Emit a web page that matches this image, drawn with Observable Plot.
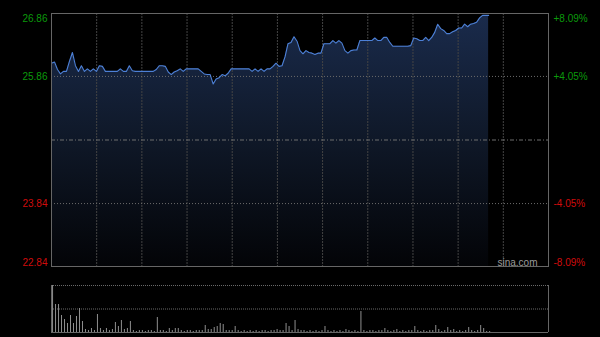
<!DOCTYPE html>
<html><head><meta charset="utf-8">
<script src="https://cdn.jsdelivr.net/npm/d3@7"></script>
<script src="https://cdn.jsdelivr.net/npm/@observablehq/plot@0.6"></script>
<style>
html,body{margin:0;padding:0;background:#000;}
#c{position:relative;width:600px;height:337px;background:#000;overflow:hidden;}
#c svg{position:absolute;left:0;}
</style>
</head><body><div id="c"></div>
<script>
const prices = [26.07,26.09,25.97,25.90,25.94,25.94,26.10,26.24,26.03,25.94,
26.03,25.94,25.98,25.94,25.98,25.94,26.03,26.02,25.94,25.94,
25.94,25.94,25.94,25.98,25.94,25.94,26.03,25.95,25.94,25.94,
25.94,25.94,25.94,25.94,25.94,25.97,26.03,26.03,26.02,25.93,
25.89,25.93,25.95,25.98,25.94,25.98,25.98,25.98,25.98,25.98,
25.94,25.90,25.89,25.89,25.74,25.82,25.84,25.89,25.87,25.91,
25.98,25.98,25.98,25.98,25.98,25.98,25.98,25.94,25.98,25.94,
25.98,25.94,25.98,25.98,26.02,26.07,26.02,26.03,26.17,26.38,
26.40,26.49,26.42,26.27,26.22,26.27,26.24,26.23,26.21,26.23,
26.23,26.38,26.38,26.38,26.43,26.39,26.43,26.39,26.27,26.23,
26.27,26.28,26.28,26.43,26.43,26.43,26.43,26.43,26.47,26.43,
26.43,26.48,26.48,26.40,26.34,26.34,26.34,26.34,26.34,26.34,
26.35,26.47,26.46,26.43,26.43,26.48,26.43,26.48,26.56,26.69,
26.62,26.59,26.54,26.54,26.57,26.59,26.63,26.63,26.69,26.65,
26.69,26.70,26.72,26.79,26.83,26.83,26.83];
const volumes = [47,28,28,17,13,9,17,9,16,24,
11,3,2,4,2,18,4,2,4,2,
3,10,6,12,3,4,11,2,1,2,
2,1,2,2,1,15,2,2,1,4,
2,4,4,2,1,2,2,1,2,2,
2,7,3,3,5,6,9,8,2,2,
2,6,2,1,2,1,2,1,2,1,
2,2,1,2,2,3,2,2,9,6,
2,12,3,2,2,1,2,1,2,1,
2,6,2,1,2,1,2,1,3,2,
1,2,1,21,2,1,2,2,1,2,
2,4,2,1,2,3,1,2,1,2,
2,6,2,1,2,1,2,2,7,3,
1,2,5,2,3,1,2,1,2,5,
2,1,2,7,4,1,1];
const priceTicks = [26.86, 25.86, 23.84, 22.84];
const percentLabels = ["+8.09%", "+4.05%", "-4.05%", "-8.09%"];
const prevClose = 24.85;
const sessionSlots = 166;
const gridSections = 11;
const volumeMax = 47;

const green = "#0b9a0b", red = "#d00c0c";
const font = "'Liberation Sans', Arial, sans-serif";
const yMin = priceTicks[3], yMax = priceTicks[0];
const gridX = d3.range(1, gridSections).map(k => k * sessionSlots / gridSections);
const tickRows = priceTicks.map((p, i) => ({p, pct: percentLabels[i]}));
const idx = (d, i) => i;

function labelMarks(rows, anchor, dy) {
  return [
    Plot.text(rows, {x: 0, y: "p", text: d => d.p.toFixed(2), textAnchor: "end", dx: -4, dy,
      lineAnchor: anchor, fill: d => d.p > prevClose ? green : red, fontSize: 10}),
    Plot.text(rows, {x: sessionSlots, y: "p", text: "pct", textAnchor: "start", dx: 5, dy,
      lineAnchor: anchor, fill: d => d.p > prevClose ? green : red, fontSize: 10})
  ];
}

const priceChart = Plot.plot({
  width: 600, height: 270,
  marginLeft: 51, marginRight: 52, marginTop: 13, marginBottom: 4,
  x: {domain: [0, sessionSlots], axis: null},
  y: {domain: [yMin, yMax], axis: null},
  style: {background: "#000", fontFamily: font, fontSize: "10px"},
  marks: [
    Plot.areaY(prices, {x: idx, y1: yMin, y2: d => d, fill: "url(#priceGrad)"}),
    Plot.ruleX(gridX, {stroke: "#444", strokeDasharray: "2,1"}),
    Plot.ruleY([priceTicks[1], priceTicks[2]], {stroke: "#6a6a6a", strokeDasharray: "1,2"}),
    Plot.ruleY([prevClose], {stroke: "#6f6f6f", strokeDasharray: "4,2,1,2"}),
    Plot.lineY(prices, {x: idx, y: d => d, stroke: "#4d80d6", strokeWidth: 1.1}),
    Plot.frame({stroke: "#666"}),
    ...labelMarks(tickRows.slice(0, 1), "top", 1),
    ...labelMarks(tickRows.slice(1, 3), "middle", 0),
    ...labelMarks(tickRows.slice(3), "bottom", -1),
    Plot.text(["sina.com"], {frameAnchor: "bottom-right", lineAnchor: "bottom", dx: -11, dy: -1,
      fill: "#9a9a9a", fontSize: 10})
  ]
});
d3.select(priceChart).insert("defs", ":first-child").html(
  '<linearGradient id="priceGrad" gradientUnits="userSpaceOnUse" x1="0" y1="13" x2="0" y2="266">' +
  '<stop offset="0" stop-color="#1a2b4c"/><stop offset="0.5" stop-color="#0f1828"/>' +
  '<stop offset="1" stop-color="#030407"/></linearGradient>');
priceChart.style.top = "0px";

const volumeChart = Plot.plot({
  width: 600, height: 67,
  marginLeft: 51, marginRight: 52, marginTop: 15, marginBottom: 5,
  x: {domain: [0, sessionSlots], axis: null},
  y: {domain: [0, volumeMax], axis: null},
  style: {background: "#000", fontFamily: font},
  marks: [
    Plot.ruleY([volumeMax, volumeMax / 2], {stroke: "#6a6a6a", strokeDasharray: "1,1"}),
    Plot.ruleX([0, sessionSlots], {stroke: "#666"}),
    Plot.ruleY([0], {stroke: "#666"}),
    Plot.ruleX(volumes, {x: (d, i) => i + 0.35, y1: 0, y2: d => d, stroke: "#8e8e8e", strokeWidth: 1})
  ]
});
volumeChart.style.top = "270px";

document.getElementById("c").append(priceChart, volumeChart);
</script>
</body></html>
